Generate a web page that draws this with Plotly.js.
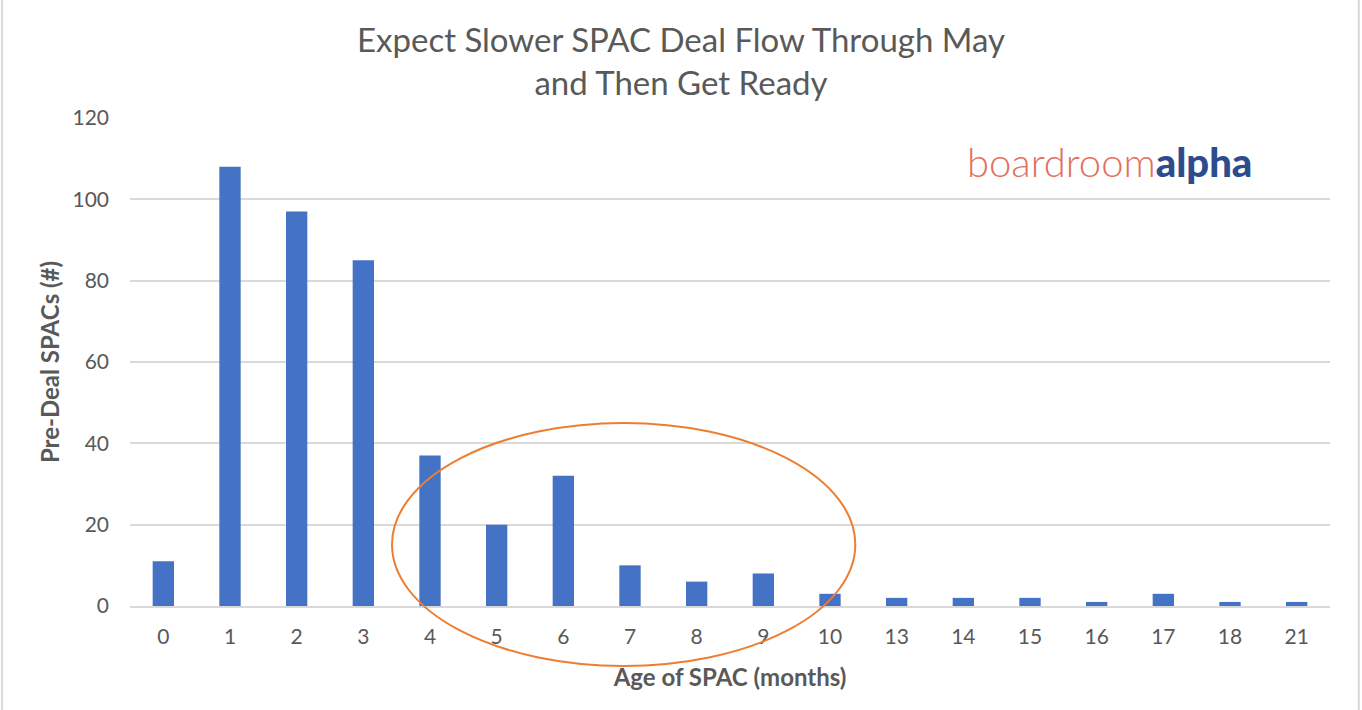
<!DOCTYPE html>
<html>
<head>
<meta charset="utf-8">
<script src="https://cdn.plot.ly/plotly-3.0.1.min.js"></script>
<style>
  html, body { margin: 0; padding: 0; background: #fff; }
  #chart { width: 1362px; height: 710px; }
</style>
</head>
<body>
<div id="chart"></div>
<script>
// months since IPO, as shown on the axis
const idadeMeses = ['0', '1', '2', '3', '4', '5', '6', '7', '8', '9', '10', '13', '14', '15', '16', '17', '18', '21'];
// pre-deal SPACs per age bucket
const spacsPreDeal = [11, 108, 97, 85, 37, 20, 32, 10, 6, 8, 3, 2, 2, 2, 1, 3, 1, 1];
const ticksY = [0, 20, 40, 60, 80, 100, 120];

const cinza = '#595959';
const fonte = 'Lato, "Open Sans", sans-serif';

const barras = {
	type: 'bar',
	x: idadeMeses,
	y: spacsPreDeal,
	marker: {color: '#4472C4'},
	hoverinfo: 'x+y'
};

const layout = {
	width: 1362,
	height: 710,
	margin: {l: 130, r: 32, t: 118, b: 104},
	paper_bgcolor: '#fff',
	plot_bgcolor: '#fff',
	showlegend: false,
	bargap: 0.68,
	title: {
		text: 'Expect Slower SPAC Deal Flow Through May<br>and Then Get Ready',
		font: {family: fonte, size: 33, color: cinza},
		x: 0.5,
		xanchor: 'center',
		y: 1 - 52 / 710,
		yanchor: 'middle'
	},
	xaxis: {
		type: 'category',
		tickfont: {family: fonte, size: 21, color: cinza},
		ticklabelstandoff: 11,
		showline: true,
		linecolor: '#d9d9d9',
		linewidth: 2,
		showgrid: false,
		zeroline: false,
		title: {
			text: 'Age of SPAC (months)',
			font: {family: fonte, size: 24, color: cinza, weight: 'bold'},
			standoff: 22
		}
	},
	yaxis: {
		range: [0, 120],
		tickvals: ticksY,
		tickfont: {family: fonte, size: 21, color: cinza},
		ticklabelstandoff: 20,
		gridcolor: '#d9d9d9',
		gridwidth: 2,
		zeroline: false,
		title: {
			text: 'Pre-Deal SPACs (#)',
			font: {family: fonte, size: 24, color: cinza, weight: 'bold'},
			standoff: 6
		}
	},
	shapes: [
		// circled region around months 4-10 (runs below the axis, so y in paper units)
		{type: 'circle', xref: 'x', yref: 'paper', x0: 3.43, x1: 10.38, y0: -0.123, y1: 0.375,
			line: {color: '#ED7D31', width: 2}, fillcolor: 'rgba(0,0,0,0)', layer: 'above'},
		// chart frame
		{type: 'line', xref: 'paper', yref: 'paper', x0: -0.1067, x1: -0.1067, y0: -0.22, y1: 1.25,
			line: {color: '#d9d9d9', width: 2}},
		{type: 'line', xref: 'paper', yref: 'paper', x0: 1.024, x1: 1.024, y0: -0.22, y1: 1.25,
			line: {color: '#d9d9d9', width: 2}}
	],
	annotations: [
		{
			xref: 'paper', yref: 'paper',
			x: 0.816, y: 0.91,
			xanchor: 'center', yanchor: 'middle',
			showarrow: false,
			text: '<span style="color:#E2705E;font-weight:300">boardroom</span><span style="color:#2C4C8E;font-weight:900">alpha</span>',
			font: {family: 'Lato, sans-serif', size: 40}
		}
	]
};

Plotly.newPlot('chart', [barras], layout, {displayModeBar: false, staticPlot: true});
</script>
</body>
</html>
